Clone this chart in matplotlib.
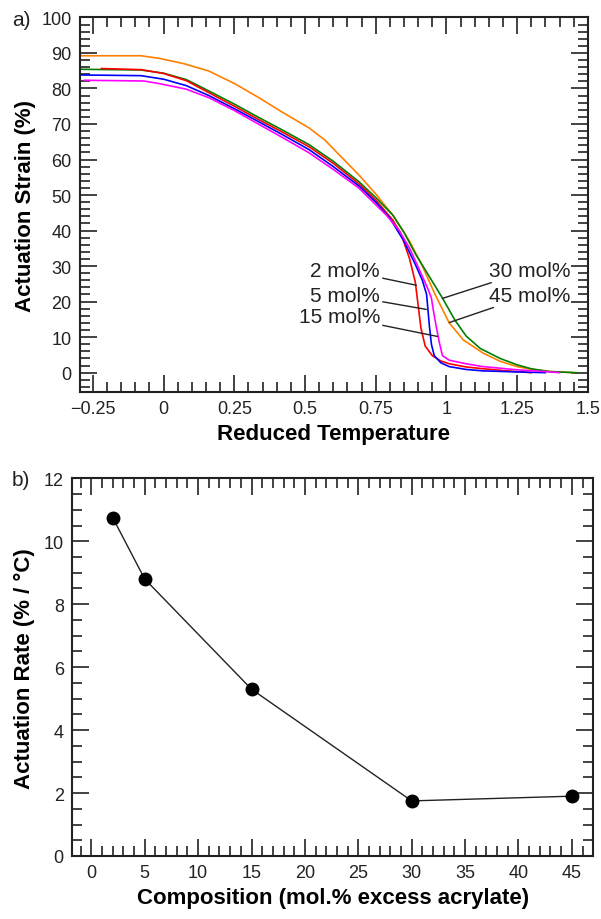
import matplotlib
matplotlib.use("Agg")
import matplotlib.pyplot as plt
from matplotlib.ticker import MultipleLocator

plt.rcParams['font.family'] = ['Liberation Sans', 'DejaVu Sans']

# panel a) actuation strain vs reduced temperature
x_2 = [-0.22, -0.08, 0.0, 0.08, 0.16, 0.25, 0.337, 0.42, 0.514, 0.6, 0.69, 0.75, 0.81, 0.84, 0.87,
       0.89, 0.9, 0.91, 0.925, 0.95, 0.98, 1.01, 1.07, 1.13, 1.2, 1.3]
y_2 = [85.6, 85.3, 84.2, 82.2, 78.8, 75.0, 71.2, 67.7, 63.6, 58.9, 53.2, 48.6, 43.0, 39.0, 32.0,
       25.5, 19.0, 12.5, 7.5, 4.8, 3.3, 2.5, 1.6, 1.1, 0.6, 0.0]

x_5 = [-0.296, -0.08, 0.0, 0.08, 0.16, 0.25, 0.337, 0.42, 0.514, 0.6, 0.69, 0.75, 0.8, 0.85, 0.89,
       0.915, 0.93, 0.94, 0.947, 0.957, 0.98, 1.01, 1.07, 1.13, 1.25, 1.35]
y_5 = [83.8, 83.6, 82.6, 80.8, 78.0, 74.3, 70.6, 67.0, 62.8, 58.0, 52.6, 48.0, 43.5, 37.0, 30.5,
       26.0, 22.0, 13.0, 8.0, 4.8, 2.8, 1.7, 0.9, 0.5, 0.2, 0.0]

x_15 = [-0.28, -0.07, -0.018, 0.08, 0.16, 0.25, 0.337, 0.42, 0.514, 0.6, 0.69, 0.787, 0.833, 0.87,
        0.91, 0.935, 0.947, 0.955, 0.964, 0.975, 0.986, 1.01, 1.07, 1.13, 1.25, 1.35, 1.4]
y_15 = [82.3, 82.1, 81.4, 79.8, 77.4, 73.8, 69.9, 66.2, 61.9, 57.2, 52.0, 44.4, 40.0, 35.0,
        28.0, 23.5, 21.0, 17.0, 13.0, 8.5, 4.8, 3.5, 2.5, 1.7, 0.8, 0.3, 0.0]

x_30 = [-0.296, -0.08, 0.0, 0.08, 0.16, 0.25, 0.337, 0.42, 0.514, 0.6, 0.69, 0.75, 0.81, 0.85, 0.89,
        0.94, 0.986, 1.03, 1.07, 1.12, 1.19, 1.25, 1.3, 1.365, 1.46]
y_30 = [85.4, 85.2, 84.3, 82.5, 79.3, 75.6, 71.8, 68.3, 64.2, 59.5, 53.8, 49.3, 44.4, 39.5, 33.5,
        27.0, 21.0, 14.8, 10.3, 6.8, 4.0, 2.2, 1.1, 0.3, 0.0]

x_45 = [-0.296, -0.08, -0.018, 0.07, 0.16, 0.25, 0.337, 0.42, 0.514, 0.57, 0.62, 0.69, 0.75, 0.81,
        0.87, 0.915, 0.96, 1.01, 1.06, 1.13, 1.19, 1.25, 1.31, 1.37, 1.45]
y_45 = [89.2, 89.2, 88.5, 87.0, 84.9, 81.4, 77.4, 73.3, 68.9, 65.5, 61.4, 55.7, 50.3, 44.4,
        37.0, 30.0, 22.0, 14.0, 9.2, 5.5, 3.2, 1.7, 0.8, 0.3, 0.0]

# panel b) actuation rate vs composition
composition = [2, 5, 15, 30, 45]
rate = [10.75, 8.8, 5.3, 1.75, 1.9]

fig = plt.figure(figsize=(6.01, 9.2), dpi=100)
ax1 = fig.add_axes([0.133, 0.573, 0.845, 0.407])
ax2 = fig.add_axes([0.120, 0.0685, 0.867, 0.4105])

ax1.plot(x_45, y_45, color='#ff8000', lw=1.2)
ax1.plot(x_30, y_30, color='#008000', lw=1.2)
ax1.plot(x_2, y_2, color='#ff0000', lw=1.2)
ax1.plot(x_5, y_5, color='#0000ff', lw=1.2)
ax1.plot(x_15, y_15, color='#ff00ff', lw=1.2)

ax1.set_xlim(-0.296, 1.5)
ax1.set_ylim(-5.4, 100)
ax1.xaxis.set_minor_locator(MultipleLocator(0.05))
ax1.yaxis.set_minor_locator(MultipleLocator(2))
ax1.set_xticks([-0.25, 0, 0.25, 0.5, 0.75, 1, 1.25, 1.5])
ax1.set_xticklabels(['\u22120.25', '0', '0.25', '0.5', '0.75', '1', '1.25', '1.5'])
ax1.set_yticks(range(0, 101, 10))
ax1.set_xlabel('Reduced Temperature', fontsize=16, fontweight='bold', labelpad=4)
ax1.set_ylabel('Actuation Strain (%)', fontsize=16, fontweight='bold', labelpad=4)

lab = dict(fontsize=15, color='#222222', arrowprops=dict(arrowstyle='-', color='#222222', lw=1.0,
                                                         shrinkA=0, shrinkB=0))
ax1.annotate('2 mol%', xy=(0.894, 24.6), xytext=(0.765, 28.8), ha='right', va='center', **lab)
ax1.annotate('5 mol%', xy=(0.929, 17.8), xytext=(0.765, 21.8), ha='right', va='center', **lab)
ax1.annotate('15 mol%', xy=(0.968, 10.2), xytext=(0.765, 15.8), ha='right', va='center', **lab)
ax1.annotate('30 mol%', xy=(0.986, 20.9), xytext=(1.150, 28.8), ha='left', va='center', **lab)
ax1.annotate('45 mol%', xy=(1.01, 14.1), xytext=(1.150, 21.8), ha='left', va='center', **lab)

ax2.plot(composition, rate, color='#222222', lw=1.0, marker='o', markersize=9,
         markerfacecolor='black', markeredgecolor='black')
ax2.set_xlim(-1.8, 47)
ax2.set_ylim(0, 12)
ax2.xaxis.set_major_locator(MultipleLocator(5))
ax2.xaxis.set_minor_locator(MultipleLocator(1))
ax2.yaxis.set_major_locator(MultipleLocator(2))
ax2.yaxis.set_minor_locator(MultipleLocator(0.5))
ax2.set_xlabel('Composition (mol.% excess acrylate)', fontsize=16, fontweight='bold', labelpad=4)
ax2.set_ylabel('Actuation Rate (% / \u00b0C)', fontsize=16, fontweight='bold', labelpad=6)

for ax in (ax1, ax2):
    ax.tick_params(which='both', direction='in', top=True, right=True, colors='#222222',
                   labelsize=13, width=1.2)
    ax.tick_params(which='major', length=12, pad=6)
    ax.tick_params(which='minor', length=7)
    for s in ax.spines.values():
        s.set_linewidth(1.5)
        s.set_color('#222222')

fig.text(0.02, 0.978, 'a)', fontsize=15, color='#222222', va='center')
fig.text(0.02, 0.478, 'b)', fontsize=15, color='#222222', va='center')

fig.savefig('out.png', dpi=100)
